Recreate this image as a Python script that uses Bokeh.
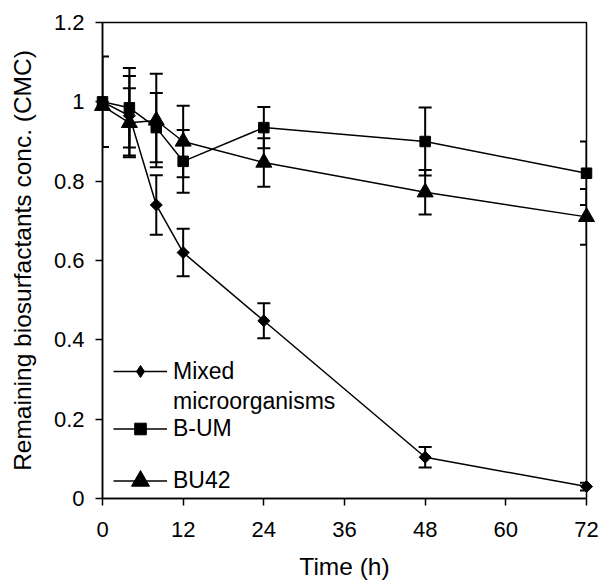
import math
from bokeh.plotting import figure
from bokeh.models import ColumnDataSource, Whisker, TeeHead, Legend, LegendItem, FixedTicker, Range1d
from bokeh.embed import file_html
from bokeh.resources import INLINE

# ---- data ----
time_h = [0, 4, 8, 12, 24, 48, 72]
mixed = [1.0, 0.965, 0.74, 0.62, 0.448, 0.104, 0.03]
mixed_err = [0.114, 0.10, 0.075, 0.06, 0.044, 0.026, 0.01]
bum = [1.0, 0.985, 0.935, 0.85, 0.935, 0.90, 0.82]
bum_err = [float("nan"), 0.10, 0.087, 0.079, 0.052, 0.086, 0.08]
bu42 = [0.99, 0.947, 0.953, 0.90, 0.847, 0.772, 0.71]
bu42_err = [float("nan"), 0.087, 0.118, 0.09, 0.061, 0.056, 0.07]

x_ticks = [0, 12, 24, 36, 48, 60, 72]
y_ticks = [0, 0.2, 0.4, 0.6, 0.8, 1.0, 1.2]
y_tick_labels = ["0", "0.2", "0.4", "0.6", "0.8", "1", "1.2"]

FONT = "Liberation Sans"

p = figure(width=601, height=587, output_backend="svg", toolbar_location=None,
           x_range=Range1d(0, 72), y_range=Range1d(0, 1.2),
           min_border_left=102, min_border_right=15, min_border_top=22, min_border_bottom=89)
p.background_fill_color = "white"
p.border_fill_color = "white"
p.outline_line_color = "black"
p.outline_line_width = 1.5
p.grid.visible = False

p.xaxis.ticker = FixedTicker(ticks=x_ticks)
p.yaxis.ticker = FixedTicker(ticks=y_ticks)
p.yaxis.major_label_overrides = {t: l for t, l in zip(y_ticks, y_tick_labels)}
for ax in (p.xaxis, p.yaxis):
    ax.axis_line_color = "black"
    ax.axis_line_width = 1.5
    ax.major_tick_line_color = "black"
    ax.major_tick_line_width = 1.5
    ax.major_tick_out = 7
    ax.major_tick_in = 0
    ax.minor_tick_line_color = None
    ax.major_label_text_font = FONT
    ax.major_label_text_font_size = "22px"
    ax.major_label_text_color = "black"
    ax.axis_label_text_font = FONT
    ax.axis_label_text_font_size = "24.5px"
    ax.axis_label_text_font_style = "normal"
    ax.axis_label_text_color = "black"
p.xaxis.axis_label = "Time (h)"
p.yaxis.axis_label = "Remaining biosurfactants conc. (CMC)"
p.xaxis.major_label_standoff = 16
p.yaxis.major_label_standoff = 11
p.xaxis.axis_label_standoff = 13
p.yaxis.axis_label_standoff = 15

line_renderers = []
for vals, errs, mk in [
    (mixed, mixed_err, dict(marker="square", angle=math.pi / 4, size=8.5)),
    (bum, bum_err, dict(marker="square", size=10.5)),
    (bu42, bu42_err, dict(marker="triangle", size=16)),
]:
    src = ColumnDataSource(dict(
        x=time_h, y=vals,
        upper=[v + e for v, e in zip(vals, errs)],
        lower=[v - e for v, e in zip(vals, errs)],
    ))
    lr = p.line("x", "y", source=src, line_color="black", line_width=1.5)
    w = Whisker(source=src, base="x", upper="upper", lower="lower", dimension="height",
                line_color="black", line_width=2, level="overlay",
                upper_head=TeeHead(size=13, line_color="black", line_width=2),
                lower_head=TeeHead(size=13, line_color="black", line_width=2))
    p.add_layout(w)
    sr = p.scatter("x", "y", source=src, fill_color="black", line_color="black",
                   level="overlay", **mk)
    line_renderers.append((lr, sr))

# legend-only glyph for the diamond series (legends draw markers unrotated);
# its single point is NaN, so nothing is drawn in the plot area
leg_diamond = p.scatter(x=[float("nan")], y=[float("nan")], marker="diamond",
                        fill_color="black", line_color="black")

def make_legend(items, loc, gh):
    return Legend(items=items, location=loc, padding=0, margin=0, spacing=0,
                  glyph_width=54, glyph_height=gh, label_standoff=6,
                  label_text_font=FONT, label_text_font_size="23px",
                  label_text_color="black",
                  border_line_alpha=0, background_fill_alpha=0)

lg1 = make_legend([LegendItem(label="Mixed", renderers=[line_renderers[0][0], leg_diamond]),
                   LegendItem(label="microorganisms", renderers=[])], (11, 82), 30)
lg2 = make_legend([LegendItem(label="B-UM", renderers=list(line_renderers[1]))], (11, 55), 29)
lg3 = make_legend([LegendItem(label="BU42", renderers=list(line_renderers[2]))], (11, -5), 45)
for lg in (lg1, lg2, lg3):
    p.add_layout(lg, "center")

open("out.html", "w").write(file_html(p, INLINE))
